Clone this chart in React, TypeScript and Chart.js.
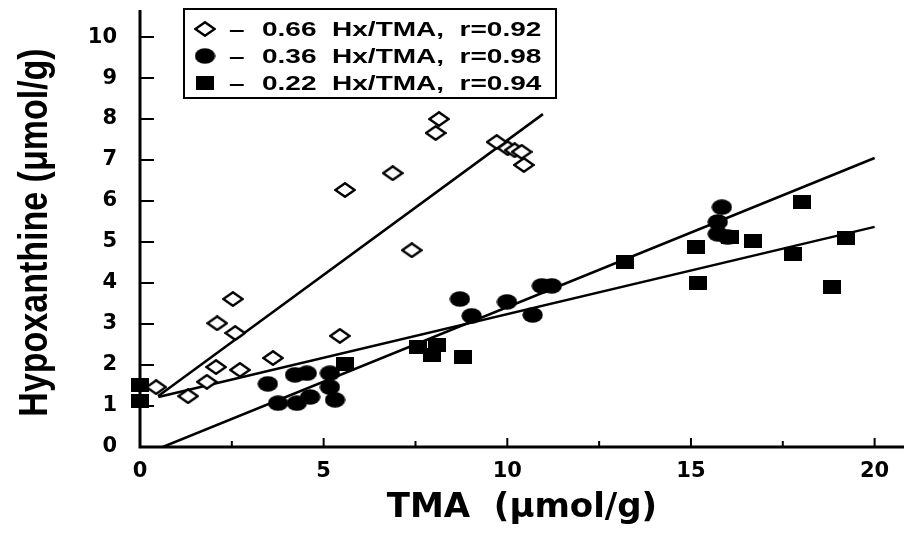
import React, { useEffect, useRef } from 'react';
import { Chart, registerables } from 'chart.js';

Chart.register(...registerables);

// ---- data ----
const diamondX = [0.44, 1.31, 1.82, 2.07, 2.10, 2.53, 2.59, 2.72, 3.62, 5.44, 5.58, 6.88, 7.40, 8.05, 8.14, 9.71, 10.01, 10.20, 10.39, 10.45];
const diamondY = [1.46, 1.24, 1.59, 1.95, 3.02, 3.61, 2.78, 1.88, 2.17, 2.71, 6.27, 6.68, 4.80, 7.66, 8.00, 7.44, 7.29, 7.24, 7.20, 6.88];

const circleX = [3.48, 3.76, 4.22, 4.54, 4.27, 4.63, 5.17, 5.17, 5.31, 8.71, 9.03, 9.99, 10.69, 10.94, 11.21, 15.84, 15.73, 15.73, 16.00];
const circleY = [1.54, 1.07, 1.76, 1.80, 1.07, 1.22, 1.80, 1.46, 1.15, 3.61, 3.20, 3.54, 3.22, 3.93, 3.93, 5.85, 5.49, 5.20, 5.12];

const squareX = [0, 0, 5.58, 7.56, 8.08, 7.95, 8.79, 13.20, 15.13, 15.18, 16.05, 16.68, 18.01, 17.77, 19.21, 18.83];
const squareY = [1.51, 1.12, 2.02, 2.44, 2.49, 2.24, 2.20, 4.51, 4.88, 4.00, 5.12, 5.02, 5.98, 4.71, 5.10, 3.90];

const fitDiamondX = [0.49, 10.97];
const fitDiamondY = [1.24, 8.12];
const fitCircleX = [0.62, 20];
const fitCircleY = [0, 7.05];
const fitSquareX = [0.5, 20];
const fitSquareY = [1.22, 5.37];

const xTickValues = [0, 5, 10, 15, 20];
const xMinorTickValues = [2.5, 7.5, 12.5, 17.5];
const yTickValues = [0, 1, 2, 3, 4, 5, 6, 7, 8, 9, 10];
const yInnerTickValues = [1, 2, 3, 4, 5, 6, 7, 8, 9, 10];

const legendLabels = ['0.66  Hx/TMA,  r=0.92', '0.36  Hx/TMA,  r=0.98', '0.22  Hx/TMA,  r=0.94'];

const xTitle = 'TMA  (μmol/g)';
const yTitle = 'Hypoxanthine (μmol/g)';

function toPoints(xs: number[], ys: number[]) {
  return xs.map((x, i) => ({ x, y: ys[i] }));
}

function makeMarker(kind: 'diamond' | 'ellipse' | 'square'): HTMLCanvasElement {
  const c = document.createElement('canvas');
  if (kind === 'diamond') {
    c.width = 22; c.height = 16;
    const g = c.getContext('2d')!;
    g.beginPath();
    g.moveTo(11, 1.3); g.lineTo(20.7, 8); g.lineTo(11, 14.7); g.lineTo(1.3, 8); g.closePath();
    g.fillStyle = '#fff'; g.fill();
    g.lineWidth = 2.5; g.strokeStyle = '#000'; g.stroke();
  } else if (kind === 'ellipse') {
    c.width = 21; c.height = 16;
    const g = c.getContext('2d')!;
    g.beginPath();
    g.ellipse(10.5, 8, 10.2, 7.7, 0, 0, Math.PI * 2);
    g.fillStyle = '#000'; g.fill();
  } else {
    c.width = 18; c.height = 14;
    const g = c.getContext('2d')!;
    g.fillStyle = '#000'; g.fillRect(0, 0, 18, 14);
  }
  return c;
}

export default function App() {
  const ref = useRef<HTMLCanvasElement | null>(null);

  useEffect(() => {
    if (!ref.current) return;
    const diamond = makeMarker('diamond');
    const ellipse = makeMarker('ellipse');
    const square = makeMarker('square');
    const markers = [diamond, ellipse, square];

    const axesPlugin = {
      id: 'axesPlugin',
      beforeDatasetsDraw(chart: any) {
        const { ctx, chartArea, scales } = chart;
        const xs = scales.x, ys = scales.y;
        ctx.save();
        ctx.strokeStyle = '#000';
        ctx.lineCap = 'butt';
        ctx.lineWidth = 3;
        ctx.beginPath();
        ctx.moveTo(chartArea.left - 1.5, chartArea.bottom);
        ctx.lineTo(chartArea.right, chartArea.bottom);
        ctx.moveTo(chartArea.left, chartArea.bottom);
        ctx.lineTo(chartArea.left, chartArea.top);
        ctx.stroke();
        ctx.lineWidth = 2;
        ctx.beginPath();
        for (const v of yInnerTickValues) {
          const py = ys.getPixelForValue(v);
          ctx.moveTo(chartArea.left, py);
          ctx.lineTo(chartArea.left + 14, py);
        }
        for (const v of xTickValues) {
          const px = xs.getPixelForValue(v);
          ctx.moveTo(px, chartArea.bottom);
          ctx.lineTo(px, chartArea.bottom - 9);
        }
        for (const v of xMinorTickValues) {
          const px = xs.getPixelForValue(v);
          ctx.moveTo(px, chartArea.bottom);
          ctx.lineTo(px, chartArea.bottom - 6);
        }
        ctx.stroke();
        ctx.restore();
      },
    };

    const yTitlePlugin = {
      id: 'yTitle',
      afterDraw(chart: any) {
        const { ctx, chartArea } = chart;
        ctx.save();
        ctx.fillStyle = '#000';
        ctx.font = 'bold 40px "Liberation Sans", Arial, sans-serif';
        ctx.textAlign = 'center';
        ctx.textBaseline = 'alphabetic';
        ctx.translate(47, (chartArea.top + chartArea.bottom) / 2 + 4);
        ctx.rotate(-Math.PI / 2);
        ctx.scale(0.85, 1);
        ctx.fillText(yTitle, 0, 0);
        ctx.restore();
      },
    };

    const legendPlugin = {
      id: 'boxLegend',
      afterDraw(chart: any) {
        const { ctx } = chart;
        ctx.save();
        ctx.strokeStyle = '#000';
        ctx.lineWidth = 2;
        ctx.fillStyle = '#fff';
        ctx.fillRect(184, 9, 372, 89);
        ctx.strokeRect(184, 9, 372, 89);
        const rows = [29, 56, 83];
        ctx.fillStyle = '#000';
        ctx.textBaseline = 'middle';
        ctx.font = 'bold 20px "Liberation Sans", Arial, sans-serif';
        const sx = 1.4;
        legendLabels.forEach((label, i) => {
          const m = markers[i];
          ctx.drawImage(m, 205 - m.width / 2, rows[i] - m.height / 2);
          ctx.save();
          ctx.scale(sx, 1);
          ctx.fillText('–', 229 / sx, rows[i] + 1);
          ctx.fillText(label, 262 / sx, rows[i] + 1);
          ctx.restore();
        });
        ctx.restore();
      },
    };

    const tickFont = { family: '"DejaVu Sans", sans-serif', size: 21, weight: 'bold' as const };

    const chart = new Chart(ref.current, {
      type: 'scatter',
      data: {
        datasets: [
          { label: 'diamonds', data: toPoints(diamondX, diamondY), pointStyle: diamond as any, pointRadius: 10, clip: false as any },
          { label: 'circles', data: toPoints(circleX, circleY), pointStyle: ellipse as any, pointRadius: 10, clip: false as any },
          { label: 'squares', data: toPoints(squareX, squareY), pointStyle: square as any, pointRadius: 10, clip: false as any },
          { label: 'fit1', data: toPoints(fitDiamondX, fitDiamondY), showLine: true, pointRadius: 0, borderColor: '#000', borderWidth: 2.5, fill: false },
          { label: 'fit2', data: toPoints(fitCircleX, fitCircleY), showLine: true, pointRadius: 0, borderColor: '#000', borderWidth: 2.5, fill: false },
          { label: 'fit3', data: toPoints(fitSquareX, fitSquareY), showLine: true, pointRadius: 0, borderColor: '#000', borderWidth: 2.5, fill: false },
        ],
      },
      options: {
        animation: false,
        responsive: false,
        devicePixelRatio: 1,
        events: [],
        layout: { autoPadding: false, padding: { top: 10, right: 1, bottom: 0, left: 0 } },
        plugins: { legend: { display: false }, tooltip: { enabled: false } },
        scales: {
          x: {
            type: 'linear',
            min: 0,
            max: 20.8,
            grid: { display: false, drawTicks: false },
            border: { display: false },
            afterBuildTicks: (s: any) => { s.ticks = xTickValues.map((v) => ({ value: v })); },
            afterFit: (s: any) => { s.height = 90; s.paddingLeft = 0; s.paddingRight = 0; },
            ticks: { color: '#000', font: tickFont, padding: 12, maxRotation: 0, autoSkip: false },
            title: {
              display: true, text: xTitle, color: '#000',
              font: { family: '"DejaVu Sans", sans-serif', size: 34, weight: 'bold' },
              padding: { top: 0, bottom: 8 },
            },
          },
          y: {
            type: 'linear',
            min: 0,
            max: 10.66,
            grid: { display: false, drawTicks: false },
            border: { display: false },
            afterBuildTicks: (s: any) => { s.ticks = yTickValues.map((v) => ({ value: v })); },
            afterFit: (s: any) => { s.width = 140; s.paddingTop = 0; s.paddingBottom = 0; },
            ticks: { color: '#000', font: tickFont, padding: 23, autoSkip: false },
            title: { display: false, text: yTitle },
          },
        },
      },
      plugins: [axesPlugin, legendPlugin, yTitlePlugin],
    } as any);

    return () => chart.destroy();
  }, []);

  return (
    <div style={{ position: 'absolute', left: 0, top: 0, width: 905, height: 537, background: '#fff' }}>
      <canvas ref={ref} width={905} height={537} style={{ display: 'block', width: 905, height: 537 }} />
    </div>
  );
}
